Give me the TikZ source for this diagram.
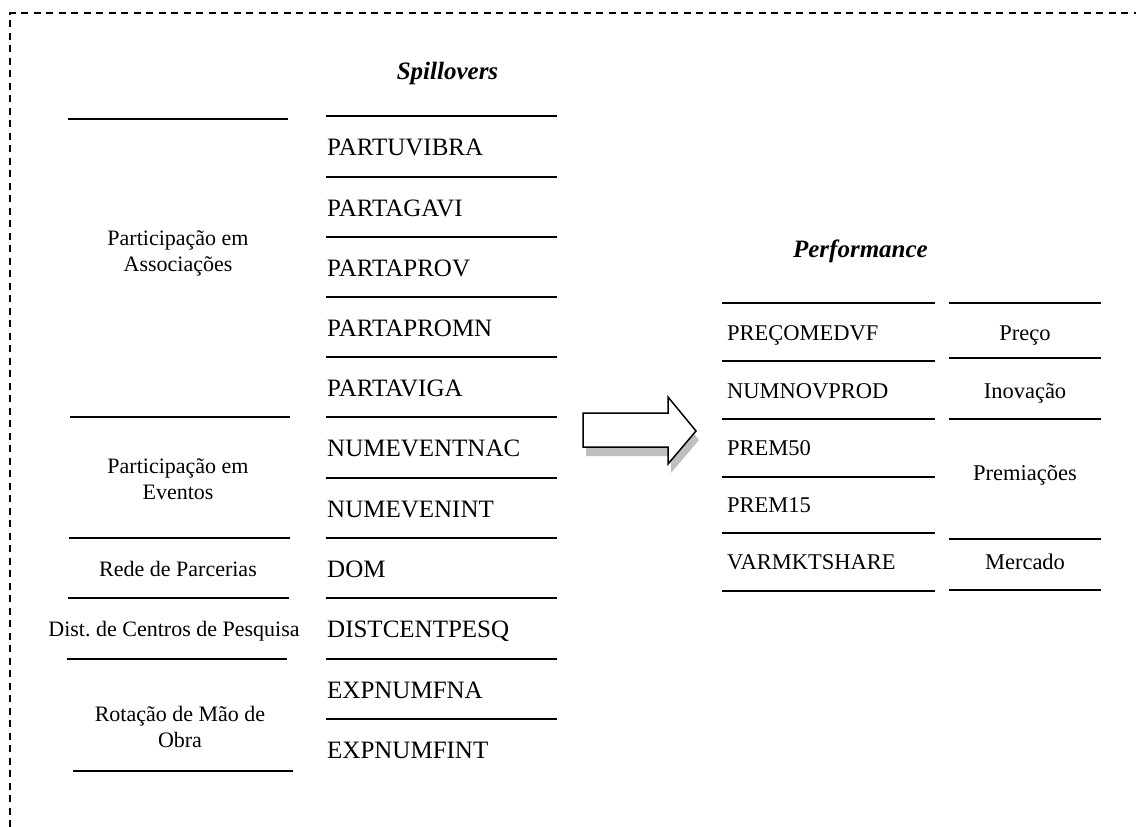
\documentclass[tikz,border=0pt]{standalone}
\usepackage{fontspec}
\setmainfont{Liberation Serif}
\frenchspacing
% two centred lines, baseline on the first line
\newcommand{\lbltwo}[2]{\begin{tabular}[t]{@{}c@{}}#1\\#2\end{tabular}}
\begin{document}
\begin{tikzpicture}[x=1pt,y=-1pt,
  rulethin/.style={line width=1.1pt},
  rulethick/.style={line width=2.1pt},
  grp/.style={line width=1.8pt},
  var/.style={anchor=base west,inner sep=0pt,font=\fontsize{25}{30}\selectfont},
  lbl/.style={anchor=base,inner sep=0pt,font=\fontsize{22}{26.5}\selectfont},
  pvar/.style={anchor=base west,inner sep=0pt,font=\fontsize{22.5}{27}\selectfont},
  plbl/.style={anchor=base,inner sep=0pt,font=\fontsize{22.5}{27}\selectfont},
  ttl/.style={inner sep=0pt,font=\fontsize{25}{30}\selectfont\bfseries\itshape},
  border/.style={line width=1.3pt,dash pattern=on 7pt off 5.5pt}]
\useasboundingbox (0,0) rectangle (1136,827);

% dashed frame
\draw[border] (10,827) -- (10,13) -- (1136,13);

% ---- Spillovers ----
\node[ttl,anchor=base] (spill) at (447.5,79) {Spillovers};

% variable column rules
\foreach \yy in {116,237,297,417,478,598,659}
  \draw[rulethin] (326,\yy) -- (557,\yy);
\foreach \yy in {177,357,538,719}
  \draw[rulethick] (326,\yy) -- (557,\yy);

\node[var] (v1)  at (327,155.5) {PARTUVIBRA};
\node[var] (v2)  at (327,216.5) {PARTAGAVI};
\node[var] (v3)  at (327,276.5) {PARTAPROV};
\node[var] (v4)  at (327,336.5) {PARTAPROMN};
\node[var] (v5)  at (327,396.5) {PARTAVIGA};
\node[var] (v6)  at (327,456.5) {NUMEVENTNAC};
\node[var] (v7)  at (327,517)   {NUMEVENINT};
\node[var] (v8)  at (327,577)   {DOM};
\node[var] (v9)  at (327,637.5) {DISTCENTPESQ};
\node[var] (v10) at (327,698)   {EXPNUMFNA};
\node[var] (v11) at (327,758)   {EXPNUMFINT};

% group column rules
\draw[grp] (68,119) -- (288,119);
\draw[grp] (70,417) -- (290,417);
\draw[grp] (69,538) -- (290,538);
\draw[grp] (68,598) -- (289,598);
\draw[grp] (67,659) -- (287,659);
\draw[grp] (73,771) -- (293,771);

\node[lbl] (g1) at (178,245) {\lbltwo{Participação em}{Associações}};
\node[lbl] (g2) at (178,473) {\lbltwo{Participação em}{Eventos}};
\node[lbl] (g3) at (178,576) {Rede de Parcerias};
\node[lbl] (g4) at (174,636) {Dist. de Centros de Pesquisa};
\node[lbl] (g5) at (180,721) {\lbltwo{Rotação de Mão de}{Obra}};

% ---- block arrow with drop shadow ----
\fill[gray!50,shift={(3,9)}] (583,413) -- (668,413) -- (668,397) -- (696,431)
  -- (668,464) -- (668,447) -- (583,447) -- cycle;
\draw[line width=1.5pt,fill=white,line join=miter] (583,413) -- (668,413) -- (668,397)
  -- (696,431) -- (668,464) -- (668,447) -- (583,447) -- cycle;

% ---- Performance ----
\node[ttl,anchor=base east] (perf) at (928,257) {Performance};

\draw[rulethick] (722,303) -- (935,303);
\draw[rulethin]  (722,361) -- (935,361);
\draw[rulethick] (722,419) -- (935,419);
\draw[rulethin]  (722,477) -- (935,477);
\draw[rulethick] (722,533) -- (935,533);
\draw[rulethin]  (722,591) -- (935,591);

\foreach \yy in {303,358,419,539,590}
  \draw[grp] (949,\yy) -- (1101,\yy);

\node[pvar] (p1) at (727,340) {PREÇOMEDVF};
\node[pvar] (p2) at (727,398) {NUMNOVPROD};
\node[pvar] (p3) at (727,455) {PREM50};
\node[pvar] (p4) at (727,512) {PREM15};
\node[pvar] (p5) at (727,569) {VARMKTSHARE};

\node[plbl] (c1) at (1025,340) {Preço};
\node[plbl] (c2) at (1025,398) {Inovação};
\node[plbl] (c3) at (1025,480) {Premiações};
\node[plbl] (c4) at (1025,569) {Mercado};
\end{tikzpicture}
\end{document}
